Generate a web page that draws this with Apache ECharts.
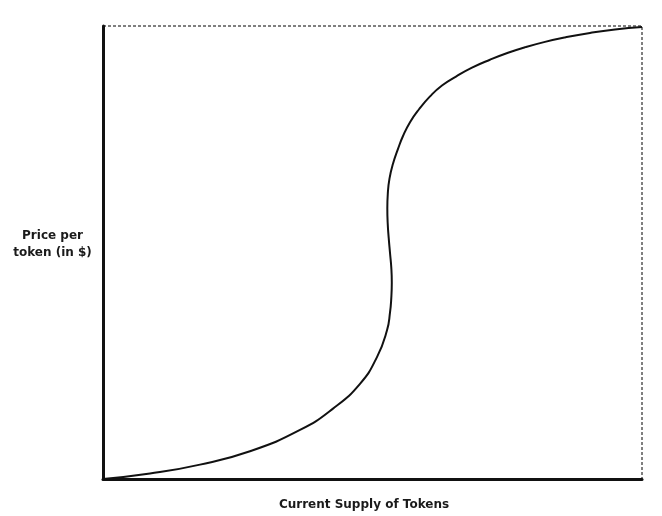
<!DOCTYPE html>
<html>
<head>
<meta charset="utf-8">
<script src="https://cdn.jsdelivr.net/npm/echarts@6/dist/echarts.min.js"></script>
<style>html,body{margin:0;padding:0;background:#fff;}#c{width:662px;height:516px;}</style>
</head>
<body>
<div id="c"></div>
<script>
// Curve (supply %, price %)
const supply = [0, 8.72, 18.00, 27.27, 36.55, 42.67, 47.68, 50.83, 52.69, 53.25, 53.49, 53.58, 53.49, 53.25, 53.01, 52.82, 52.75, 52.84, 53.15, 53.80, 54.73, 55.66, 56.96, 58.63, 60.67, 62.89, 65.49, 68.46, 71.80, 75.14, 78.29, 82.00, 85.71, 90.35, 94.99, 100];
const price  = [0, 1.20, 3.17, 6.13, 10.83, 15.54, 21.01, 26.91, 32.82, 36.76, 40.04, 43.33, 46.61, 49.89, 53.17, 56.46, 59.74, 63.02, 66.30, 69.58, 72.87, 75.71, 78.77, 81.62, 84.46, 86.87, 88.84, 90.81, 92.56, 94.09, 95.30, 96.50, 97.48, 98.47, 99.23, 99.78];
const xLabel = 'Current Supply of Tokens';
const yLabel = 'Price per\ntoken (in $)';

const labelFont = {fontFamily: 'DejaVu Sans, sans-serif', fontWeight: 'bold', fontSize: 12, color: '#1a1a1a'};

const chart = echarts.init(document.getElementById('c'), null, {renderer: 'canvas'});
chart.setOption({
  animation: false,
  backgroundColor: '#fff',
  grid: {left: 103, right: 20, top: 26, bottom: 33, show: true, borderColor: '#000', borderWidth: 1, borderType: [3, 2], backgroundColor: 'transparent'},
  graphic: [{
    type: 'text', x: 52.5, y: 244.5, silent: true,
    style: {text: yLabel, align: 'center', verticalAlign: 'middle', lineHeight: 17,
      fontFamily: labelFont.fontFamily, fontWeight: 'bold', fontSize: 12, fill: '#1a1a1a'}
  }],
  xAxis: {
    type: 'value', min: 0, max: 100,
    name: xLabel, nameLocation: 'middle', nameGap: 20,
    nameTextStyle: Object.assign({padding: [0, 17, 0, 0]}, labelFont),
    axisLine: {show: true, lineStyle: {color: '#111', width: 3}},
    axisTick: {show: false}, axisLabel: {show: false}, splitLine: {show: false}
  },
  yAxis: {
    type: 'value', min: 0, max: 100,
    axisLine: {show: true, lineStyle: {color: '#111', width: 3}},
    axisTick: {show: false}, axisLabel: {show: false}, splitLine: {show: false}
  },
  series: [{
    type: 'line',
    data: supply.map((s, i) => [s, price[i]]),
    smooth: 0.5,
    showSymbol: false,
    lineStyle: {color: '#111', width: 2}
  }]
});
</script>
</body>
</html>
